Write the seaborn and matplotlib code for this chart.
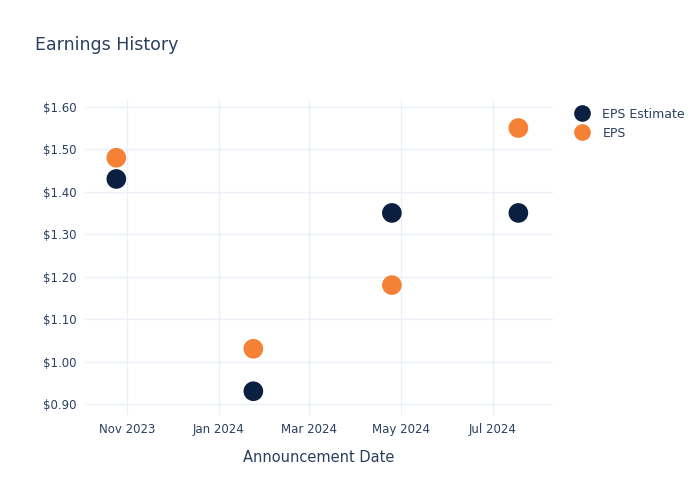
import matplotlib
matplotlib.use('Agg')
import matplotlib.pyplot as plt
import matplotlib.dates as mdates
import matplotlib.ticker as mticker
import seaborn as sns
import pandas as pd

dates = ['2023-10-25', '2024-01-24', '2024-04-25', '2024-07-18']
eps_estimate = [1.43, 0.93, 1.35, 1.35]
eps_actual = [1.48, 1.03, 1.18, 1.55]

df = pd.DataFrame({
    'date': pd.to_datetime(dates * 2),
    'value': eps_estimate + eps_actual,
    'series': ['EPS Estimate'] * 4 + ['EPS'] * 4,
})

sns.set_style('white')
plt.rcParams['font.family'] = ['DejaVu Sans']
txt = '#2a3f5f'
grid = '#ebf0f8'

fig = plt.figure(figsize=(7, 5), dpi=100)
ax = fig.add_axes([0.121, 0.17, 0.669, 0.63])
sns.scatterplot(data=df, x='date', y='value', hue='series',
                palette={'EPS Estimate': '#0b1f40', 'EPS': '#f58134'},
                s=200, edgecolor='none', ax=ax, zorder=3)

ax.set_xlim(pd.Timestamp('2023-10-04'), pd.Timestamp('2024-08-10'))
ax.set_ylim(0.874, 1.616)
ax.xaxis.set_major_locator(mdates.MonthLocator(bymonth=[1, 3, 5, 7, 11]))
ax.xaxis.set_major_formatter(mdates.DateFormatter('%b %Y'))
ax.yaxis.set_major_locator(mticker.MultipleLocator(0.1))
ax.yaxis.set_major_formatter(mticker.FuncFormatter(lambda v, p: f'${v:.2f}'))
ax.grid(True, color=grid, linewidth=1)
for s in ax.spines.values():
    s.set_visible(False)
ax.tick_params(colors=txt, labelsize=8.5, length=0, pad=6)
ax.set_xlabel('Announcement Date', color=txt, fontsize=10.5, labelpad=10)
ax.set_ylabel('')

ax.legend(loc='upper left', bbox_to_anchor=(1.02, 1.0), frameon=False,
          labelcolor=txt, fontsize=9, handletextpad=0.6, markerscale=0.85,
          borderaxespad=0.2, labelspacing=0.5)

fig.text(0.05, 0.9, 'Earnings History', color=txt, fontsize=12.5)
fig.savefig('out.png', dpi=100)
